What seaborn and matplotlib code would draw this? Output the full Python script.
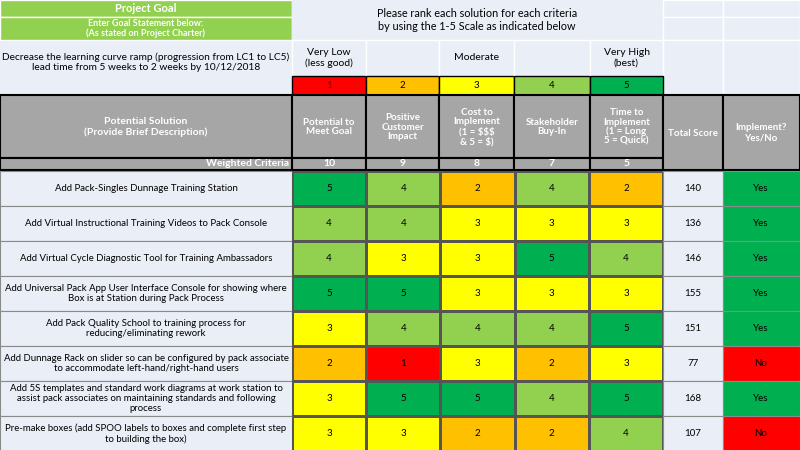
import matplotlib
matplotlib.use("Agg")
import matplotlib.pyplot as plt
from matplotlib.colors import ListedColormap
from matplotlib.patches import Rectangle
import seaborn as sns
import numpy as np

solutions = [
    "Add Pack-Singles Dunnage Training Station",
    "Add Virtual Instructional Training Videos to Pack Console",
    "Add Virtual Cycle Diagnostic Tool for Training Ambassadors",
    "Add Universal Pack App User Interface Console for showing where\nBox is at Station during Pack Process",
    "Add Pack Quality School to training process for\nreducing/eliminating rework",
    "Add Dunnage Rack on slider so can be configured by pack associate\nto accommodate left-hand/right-hand users",
    "Add 5S templates and standard work diagrams at work station to\nassist pack associates on maintaining standards and following\nprocess",
    "Pre-make boxes (add SPOO labels to boxes and complete first step\nto building the box)",
]
criteria = ["Potential to\nMeet Goal", "Positive\nCustomer\nImpact", "Cost to\nImplement\n(1 = $$$\n& 5 = $)",
            "Stakeholder\nBuy-In", "Time to\nImplement\n(1 = Long\n5 = Quick)"]
weights = [10, 9, 8, 7, 5]
scores = [
    [5, 4, 2, 4, 2],
    [4, 4, 3, 3, 3],
    [4, 3, 3, 5, 4],
    [5, 5, 3, 3, 3],
    [3, 4, 4, 4, 5],
    [2, 1, 3, 2, 3],
    [3, 5, 5, 4, 5],
    [3, 3, 2, 2, 4],
]
totals = [140, 136, 146, 155, 151, 77, 168, 107]
implement = ["Yes", "Yes", "Yes", "Yes", "Yes", "No", "Yes", "No"]
scale_labels = ["Very Low\n(less good)", "", "Moderate", "", "Very High\n(best)"]

W, H = 800, 450
colors = ["#ff0000", "#ffc000", "#ffff00", "#92d050", "#00b050"]
BG = "#e9eef7"
GRAY = "#a6a6a6"
LG = "#92d050"
FONT = "Lato"

fig = plt.figure(figsize=(8, 4.5), dpi=100)
ax = fig.add_axes([0, 0, 1, 1])
ax.set_xlim(0, W); ax.set_ylim(H, 0); ax.axis("off")
ax.add_patch(Rectangle((0, 0), W, H, color=BG, zorder=0))

colx = [0, 292, 366, 439, 514, 590, 663, 723, 800]
r0, rh = 171, 35

def rect(x0, y0, x1, y1, fc, ec="white", lw=1, z=1):
    ax.add_patch(Rectangle((x0, y0), x1 - x0, y1 - y0, facecolor=fc, edgecolor=ec, lw=lw, zorder=z))

def txt(x, y, s, **kw):
    d = dict(ha="center", va="center", fontsize=7.5, family=FONT, zorder=5)
    d.update(kw)
    ax.text(x, y, s, **d)

rect(0, 0, 292, 17, LG)
rect(0, 17, 292, 40, LG)
txt(146, 8, "Project Goal", color="white", fontweight="bold", fontsize=8)
txt(146, 28.5, "Enter Goal Statement below:\n(As stated on Project Charter)", color="white", fontweight="bold", fontsize=6.5, linespacing=1.1)
txt(146, 62, "Decrease the learning curve ramp (progression from LC1 to LC5)\nlead time from 5 weeks to 2 weeks by 10/12/2018", fontsize=7.3)
for c in range(5):
    rect(colx[c+1], 0, colx[c+2], 40, BG, ec=BG)
txt(477, 20, "Please rank each solution for each criteria\nby using the 1-5 Scale as indicated below", fontsize=7.8)
for c in range(6, 8):
    rect(colx[c], 0, colx[c+1], 17, BG, ec="white")
    rect(colx[c], 17, colx[c+1], 40, BG, ec="white")
    rect(colx[c], 40, colx[c+1], 95, BG, ec="white")
for c in range(5):
    rect(colx[c+1], 40, colx[c+2], 76, BG, ec="white")
    txt((colx[c+1]+colx[c+2])/2, 58, scale_labels[c], fontsize=7.5)
    rect(colx[c+1], 76, colx[c+2], 95, colors[c], ec="black", lw=1)
    txt((colx[c+1]+colx[c+2])/2, 86, str(c+1), fontsize=7, color="#7f0000" if c == 0 else "black")

rect(0, 95, 292, 158, GRAY, ec="black", lw=1.5)
txt(146, 127, "Potential Solution\n(Provide Brief Description)", color="white", fontweight="bold")
for c in range(5):
    x0, x1 = colx[c+1], colx[c+2]
    rect(x0, 95, x1, 158, GRAY, ec="black", lw=1.5)
    txt((x0+x1)/2, 127, criteria[c], color="white", fontweight="bold", fontsize=7, linespacing=1.05)
    rect(x0, 158, x1, 170, GRAY, ec="black", lw=1.5)
    txt((x0+x1)/2, 164, str(weights[c]), color="white", fontweight="bold", fontsize=7.5)
rect(0, 158, 292, 170, GRAY, ec="black", lw=1.5)
txt(289, 164, "Weighted Criteria", ha="right", color="white", fontweight="bold", fontsize=7.5)
rect(663, 95, 723, 170, GRAY, ec="black", lw=1.5)
txt(693, 133, "Total Score", color="white", fontweight="bold", fontsize=7)
rect(723, 95, 800, 170, GRAY, ec="black", lw=1.5)
txt(761, 133, "Implement?\nYes/No", color="white", fontweight="bold", fontsize=7)

for i, s in enumerate(solutions):
    y0 = r0 + i*rh; y1 = y0 + rh; yc = (y0+y1)/2
    rect(0, y0, 292, y1, BG, ec="#8a8a8a", lw=0.8)
    txt(146, yc, s, fontsize=6.9, linespacing=1.15)
    rect(663, y0, 723, y1, BG, ec="#8a8a8a", lw=0.8)
    txt(693, yc, str(totals[i]), fontsize=7)
    rect(723, y0, 800, y1, "#00b050" if implement[i] == "Yes" else "#ff0000", ec="#8a8a8a", lw=0.8)
    txt(761, yc, implement[i], fontsize=7)

hx0, hx1 = 292, 663
hy0, hy1 = r0, r0 + rh*len(solutions)
hax = fig.add_axes([hx0/W, 1 - hy1/H, (hx1-hx0)/W, (hy1-hy0)/H])
sns.heatmap(np.array(scores), ax=hax, cmap=ListedColormap(colors), vmin=0.5, vmax=5.5,
            cbar=False, annot=True, fmt="d", linewidths=0.8, linecolor="#555555",
            annot_kws={"fontsize": 7, "color": "black", "family": FONT})
hax.set_xticks([]); hax.set_yticks([])
hax.set_xlabel(""); hax.set_ylabel("")

fig.savefig("out.png", dpi=100)
